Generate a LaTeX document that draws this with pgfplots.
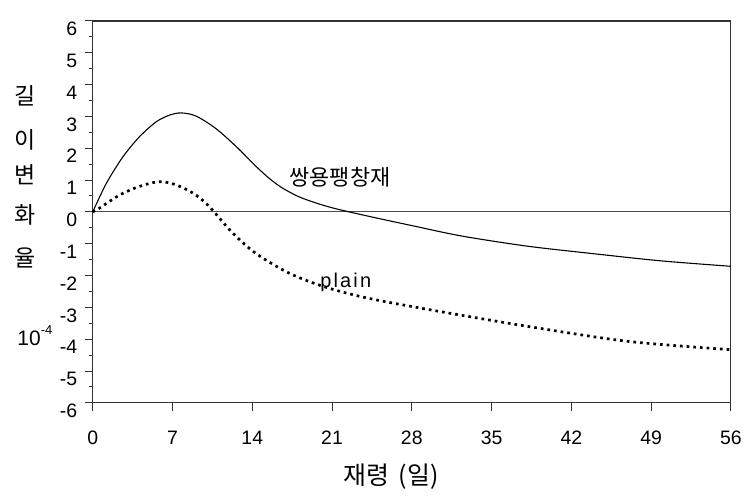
\documentclass[border=0pt]{standalone}
\usepackage{fontspec}
\setmainfont{Liberation Sans}
\newfontfamily\kr{Noto Sans CJK KR}
\newfontfamily\plainfont[LetterSpace=11]{Liberation Sans}
\usepackage{pgfplots}
\pgfplotsset{compat=1.18}
\begin{document}
\begin{tikzpicture}
\begin{axis}[
  scale only axis,
  width=640pt, height=383pt,
  xmin=0, xmax=56, ymin=-6, ymax=6,
  axis line style={line width=1.2pt, black!80},
  xtick={0,7,...,56},
  ytick={-6,-5,...,6},
  yticklabels={-6,-5,-4,-3,-2,-1,0,1,2,3,4,5,6},
  xticklabels={0,7,14,21,28,35,42,49,56},
  minor y tick num=1,
  tick align=outside,
  xtick pos=bottom, ytick pos=left,
  major tick length=8pt, minor tick length=4pt,
  tick style={line width=1pt, black!80},
  ticklabel style={font=\fontsize{19.5}{19.5}\selectfont},
  xticklabel style={yshift=-17pt},
  yticklabel style={yshift=-8pt, xshift=-4pt},
  clip=false,
]
\addplot[line width=1pt, black!70] coordinates {(0,0) (56,0)};
\addplot[line width=1.1pt, black, smooth, tension=0.5] coordinates {
(0,0) (1.2,0.9) (2.65,1.73) (4.1,2.36) (5.57,2.83) (6.74,3.04) (7.76,3.11)
(9.07,3.01) (10.8,2.62) (12.6,2.05) (14.3,1.44) (15.5,1.05) (16.6,0.76)
(18,0.49) (19.5,0.29) (21,0.13) (22.5,0.0) (25,-0.2) (28,-0.43)
(32.4,-0.76) (38.2,-1.08) (44.1,-1.32) (49.9,-1.54) (56,-1.71)};
\addplot[line width=2.7pt, black, dash pattern=on 2.7pt off 4pt, smooth, tension=0.5] coordinates {
(0,0) (0.6,0.12) (2.36,0.53) (4.1,0.8) (5.86,0.95) (7.3,0.85) (8.8,0.59)
(9.95,0.27) (10.6,0.02) (12.3,-0.67) (14.3,-1.3) (17.2,-1.92) (20.3,-2.35) (24,-2.7)
(29.5,-3.07) (38.2,-3.6) (47,-4.07) (56,-4.33)};
\node[font=\kr\fontsize{22}{22}\selectfont] at (axis cs:21.7,1.09) {쌍용팽창재};
\node[font=\plainfont\fontsize{20}{20}\selectfont] at (axis cs:22.2,-2.22) {plain};
\end{axis}
\begin{scope}[shift={(current axis.south west)}]
\node[font=\kr\fontsize{23}{23}\selectfont] at (-68pt,308pt) {길};
\node[font=\kr\fontsize{23}{23}\selectfont] at (-68pt,264pt) {이};
\node[font=\kr\fontsize{23}{23}\selectfont] at (-68pt,229pt) {변};
\node[font=\kr\fontsize{23}{23}\selectfont] at (-68pt,188pt) {화};
\node[font=\kr\fontsize{23}{23}\selectfont] at (-68pt,145pt) {율};
\node[font=\fontsize{21}{21}\selectfont] at (-58pt,67pt) {10\raisebox{1.0ex}{\fontsize{13}{13}\selectfont -4}};
\node[font=\kr\fontsize{25}{25}\selectfont] at (299pt,-74pt) {재령 \,(일)};
\path (-93pt,-97pt) rectangle (652pt,404pt);
\end{scope}
\end{tikzpicture}
\end{document}
